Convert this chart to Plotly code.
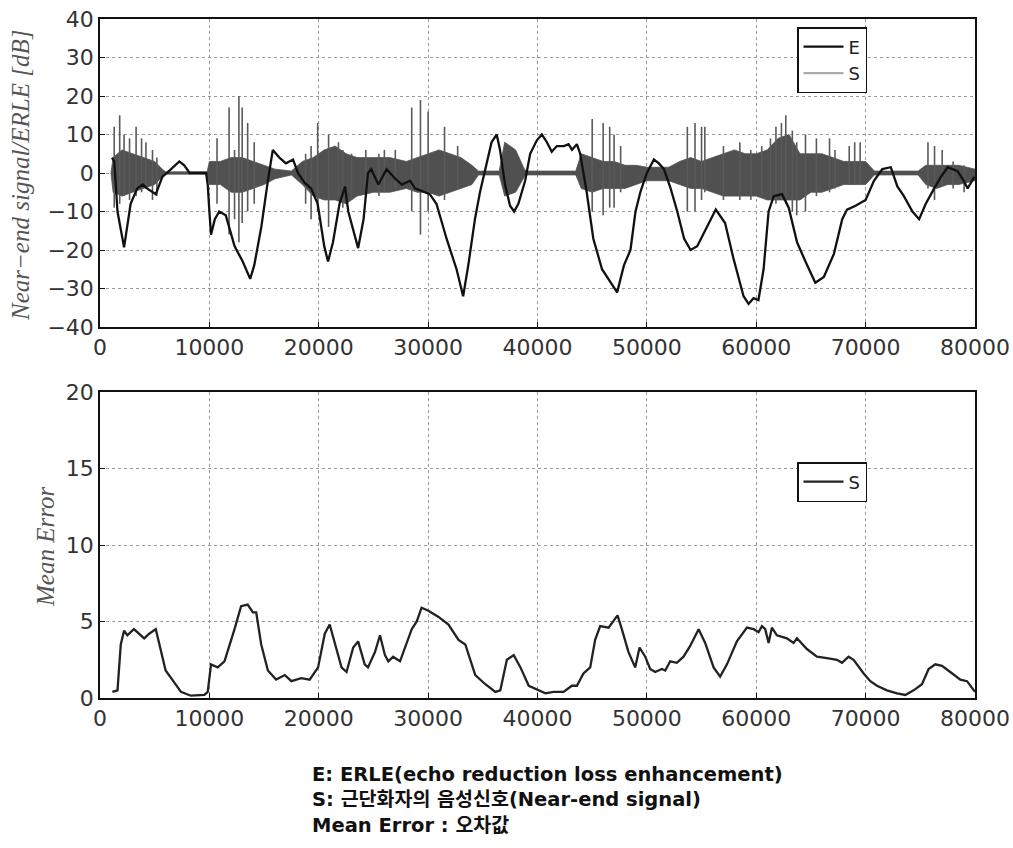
import plotly.graph_objects as go

# ---------------- data ----------------
# ERLE (E) curve, top panel
E_x = [1100, 1300, 1600, 2200, 2800, 3400, 3900, 4300, 5100, 5700, 6500, 7250, 7700, 8200, 9700,
       9850, 10000, 10150, 10500, 10900, 11500, 12300, 13050, 13730, 14100, 14750, 15350, 15800,
       16400, 17000, 17650, 18100, 18700, 19300, 19900, 20500, 20850, 21300, 21900, 22400, 22700,
       23600, 24100, 24500, 24800, 25450, 26200, 27000, 27600, 28350, 28800, 29700, 30150, 30760,
       31680, 32600, 33200, 33670, 34280, 34740, 35350, 35800, 36270, 36575, 37030, 37490, 37860,
       38250, 38870, 39330, 39940, 40400, 40860, 41300, 41770, 42400, 42840, 43150, 43600, 43900,
       44500, 45100, 45900, 46700, 47280, 47900, 48500, 48960, 49400, 50000, 50640, 51100, 51560,
       52170, 52780, 53400, 54000, 54600, 55500, 56300, 57150, 57900, 58840, 59300, 59750, 60200,
       60670, 61130, 61600, 62350, 62970, 63730, 64500, 65400, 66180, 67100, 67860, 68300, 69080,
       70000, 70760, 71530, 72300, 72900, 73500, 74280, 74890, 75500, 76270, 76880, 77500, 78400,
       78870, 79330, 79940]
E_y = [4, 3, -10, -19.3, -8, -4, -3, -4, -5.5, -1, 1, 3, 2, 0, 0,
       -3, -10, -16, -12, -10, -11, -19, -23, -27.5, -24, -14, -2, 6,
       4, 2.5, 3.5, 0, -2.5, -4, -8, -19, -23, -18, -8, -3.5, -10,
       -19.5, -12, 0, 1, -3, 1, -1.5, -3, -2, -4, -5, -5.5, -8,
       -17, -25, -32, -24, -12, -5, 3, 8, 10, 6, -3, -8.5, -10,
       -8, -2, 5, 8.5, 10, 8, 5.5, 7, 7, 7.5, 6, 7.5, 5,
       -5, -17, -25, -28.5, -31, -24, -20, -10, -5, 0, 3.5, 2.5, 1,
       -4, -10, -17, -20, -19, -14, -9.5, -13, -22, -32, -34, -32.5, -33,
       -25, -10, -6, -5.5, -9, -18, -23, -28.5, -27, -21, -12, -9.5, -8.5,
       -7, -2, 1, 1.5, -3.5, -6, -10, -12, -8, -4, -1, 1.5, 0.5,
       -1.5, -4, -1]

# Near-end signal (S): envelope of the dense part
S_x = [1000, 1200, 2000, 3000, 4000, 5000, 5700, 6000, 9800, 10000, 11000, 12000, 13000, 14000,
       15000, 16000, 17500, 18500, 19500, 20500, 21500, 22500, 23500, 25000, 26500, 28000, 29000,
       30000, 31000, 32000, 33000, 34000, 34600, 36500, 37000, 38000, 38800, 39000, 43500, 44000,
       45000, 46000, 47000, 48000, 49000, 50000, 52000, 53000, 54000, 55000, 56000, 57000, 58000,
       59000, 60000, 61000, 62000, 63000, 64000, 65000, 66000, 67000, 68000, 69000, 70000, 70800,
       74800, 75500, 76500, 77500, 78500, 80000]
S_hi = [0, 4, 6, 5, 4, 3, 1, 0.3, 0.3, 3, 3, 4, 4, 3,
        2, 1, 0.5, 3, 4, 6, 7, 5, 4, 4, 4, 3, 4,
        5, 6, 5, 4, 2, 0.5, 0.5, 8, 6, 1, 0.5, 0.5, 5,
        4, 3, 3, 2, 2, 1.5, 1.5, 3, 4, 3, 4, 5, 6,
        5, 5, 6, 9, 10, 5, 5, 5, 4, 3, 3, 3, 0.5,
        0.5, 2, 2, 2, 2, 1]
S_lo = [0, -5, -6, -5, -4, -3, -1, -0.3, -0.3, -3, -3, -5, -5, -4,
        -3, -1.5, -0.5, -3, -6, -7, -7, -8, -6, -5, -5, -4, -5,
        -5, -6, -5, -4, -3, -0.5, -0.5, -6, -5, -1, -0.5, -0.5, -4,
        -5, -4, -4, -4, -3, -2, -2, -3, -4, -4, -5, -6, -6,
        -6, -6, -7, -7, -7, -7, -5, -5, -4, -3, -3, -3, -0.5,
        -0.5, -3, -4, -3, -3, -2]

# Near-end signal (S): individual peaks
P_x = [1300, 1800, 2200, 2700, 3300, 3800, 4200, 4800, 5200,
       10700, 11800, 12300, 12700, 13000, 13500, 14100,
       18800, 19300, 19900, 20900, 21800, 22200, 23000, 24300, 25500, 26000,
       27000, 28500, 29300, 30000, 31500, 32700,
       45000, 46000, 46600, 47000, 47600, 53700, 54400, 55000, 55300,
       57000, 58500, 59500, 60500, 61300, 61800, 62300, 62700, 63300, 63700,
       64500, 65500, 66700, 67200, 68500, 69000, 69500, 75700, 76300, 77000, 78000, 79000]
P_hi = [12, 15, 10, 9, 12, 9, 8, 6, 4,
        9, 17, 6, 20, 17, 13, 8,
        5, 7, 13, 10, 8, 6, 5, 6, 5, 6,
        6, 17, 19, 16, 12, 7,
        14, 13, 12, 10, 7, 12, 13, 12, 12,
        7, 8, 6, 7, 9, 12, 13, 15, 11, 8,
        10, 9, 9, 6, 7, 8, 8, 8, 7, 6, 3, 2]
P_lo = [-9, -8, -6, -7, -6, -5, -4, -7, -6,
        -8, -16, -12, -18, -13, -10, -8,
        -8, -12, -10, -14, -6, -9, -7, -6, -6, -5,
        -4, -10, -16, -10, -7, -4,
        -10, -11, -9, -9, -5, -10, -10, -7, -5,
        -7, -7, -7, -6, -7, -8, -7, -8, -10, -11,
        -10, -6, -5, -4, -3, -3, -3, -4, -7, -3, -4, -5]

# Mean error, bottom panel
M_x = [1130, 1600, 1900, 2200, 2500, 3100, 4040, 4500, 5100, 5570, 6000, 6800, 7400, 8300, 9540,
       9850, 10150, 10760, 11380, 12300, 12900, 13500, 13980, 14280, 14740, 15350, 16100, 16900,
       17500, 18400, 19170, 19940, 20550, 21000, 21470, 22080, 22540, 23150, 23600, 24200, 24500,
       25140, 25600, 26050, 26360, 26800, 27430, 27900, 28500, 28960, 29400, 30030, 30950, 31860,
       32780, 33400, 34310, 35230, 36150, 36600, 37200, 37830, 38440, 39200, 40120, 40730, 41460,
       42380, 43140, 43600, 44200, 44820, 45270, 45730, 46500, 46950, 47320, 47710, 48320, 48930,
       49330, 49850, 50300, 50760, 51370, 51680, 52130, 52740, 53350, 53960, 54730, 55330, 56100,
       56700, 57320, 58230, 59150, 59760, 60210, 60520, 60820, 61130, 61430, 61890, 62800, 63410,
       63720, 64630, 65550, 66460, 67380, 67840, 68440, 68900, 69820, 70430, 71040, 71950, 72870,
       73630, 74390, 75150, 75760, 76370, 76980, 77740, 78660, 79270, 80000]
M_y = [0.4, 0.5, 3.5, 4.4, 4.1, 4.5, 3.9, 4.2, 4.5, 3.0, 1.8, 1.0, 0.4, 0.15, 0.2,
       0.4, 2.2, 2.0, 2.4, 4.5, 6.0, 6.1, 5.6, 5.6, 3.5, 1.8, 1.2, 1.5,
       1.1, 1.3, 1.2, 2.0, 4.2, 4.8, 3.5, 2.0, 1.7, 3.3, 3.7, 2.2, 2.0,
       3.0, 4.1, 2.8, 2.4, 2.7, 2.4, 3.3, 4.5, 5.0, 5.9, 5.7, 5.3, 4.8,
       3.8, 3.5, 1.5, 0.9, 0.4, 0.5, 2.5, 2.8, 2.0, 0.8, 0.5, 0.3, 0.4,
       0.4, 0.8, 0.8, 1.6, 2.0, 3.8, 4.7, 4.6, 5.0, 5.4, 4.5, 3.0, 2.0,
       3.3, 2.7, 1.9, 1.7, 1.9, 1.8, 2.4, 2.3, 2.7, 3.4, 4.5, 3.6, 2.0,
       1.4, 2.2, 3.7, 4.6, 4.5, 4.3, 4.7, 4.5, 3.6, 4.6, 4.1, 3.9, 3.6,
       3.9, 3.2, 2.7, 2.6, 2.5, 2.3, 2.7, 2.5, 1.6, 1.1, 0.8, 0.5, 0.3,
       0.2, 0.5, 0.9, 1.9, 2.2, 2.1, 1.7, 1.2, 1.1, 0.4]

x_ticks = [0, 10000, 20000, 30000, 40000, 50000, 60000, 70000, 80000]
top_y_ticks = [-40, -30, -20, -10, 0, 10, 20, 30, 40]
bot_y_ticks = [0, 5, 10, 15, 20]

caption_lines = ["E: ERLE(echo reduction loss enhancement)",
                 "S: 근단화자의 음성신호(Near-end signal)",
                 "Mean Error : 오차값"]

# ---------------- figure ----------------
W, H = 1013, 848
fig = go.Figure()

# S envelope band
band_x = S_x + S_x[::-1]
band_y = S_hi + S_lo[::-1]
fig.add_trace(go.Scatter(x=band_x, y=band_y, fill="toself", fillcolor="#505050",
                         line=dict(color="#505050", width=0.8), mode="lines",
                         showlegend=False, hoverinfo="skip", xaxis="x", yaxis="y"))
# S peaks
px, py = [], []
for x, hi, lo in zip(P_x, P_hi, P_lo):
    px += [x, x, None]
    py += [hi, lo, None]
fig.add_trace(go.Scatter(x=px, y=py, mode="lines", line=dict(color="#5a5a5a", width=1.6),
                         showlegend=False, hoverinfo="skip", xaxis="x", yaxis="y"))
# E
fig.add_trace(go.Scatter(x=E_x, y=E_y, mode="lines", name="E",
                         line=dict(color="#111111", width=2.3),
                         xaxis="x", yaxis="y", legend="legend"))
# legend entry for S (light gray)
fig.add_trace(go.Scatter(x=[None], y=[None], mode="lines", name="S",
                         line=dict(color="#aaaaaa", width=2.3),
                         xaxis="x", yaxis="y", legend="legend"))
# Mean error
fig.add_trace(go.Scatter(x=M_x, y=M_y, mode="lines", name="S",
                         line=dict(color="#222222", width=2.3),
                         xaxis="x2", yaxis="y2", legend="legend2"))

xd = [100 / W, 975 / W]
top_dom = [1 - 327 / H, 1 - 19 / H]
bot_dom = [1 - 698 / H, 1 - 392 / H]

tickfont = dict(family="DejaVu Sans", size=22, color="#333333")
common_axis = dict(showline=True, mirror=True, linecolor="#111111", linewidth=1.5,
                   ticks="inside", ticklen=5, tickcolor="#111111",
                   showgrid=True, gridcolor="#9a9a9a", griddash="dot", gridwidth=1,
                   zeroline=False, tickfont=tickfont, automargin=False)

legend_common = dict(xanchor="left", yanchor="top", bgcolor="white",
                     bordercolor="#111111", borderwidth=1.5,
                     font=dict(family="DejaVu Sans", size=18, color="#222222"),
                     itemwidth=40, entrywidth=52, tracegroupgap=0)

fig.update_layout(
    width=W, height=H,
    margin=dict(l=0, r=0, t=0, b=0, autoexpand=False),
    paper_bgcolor="white", plot_bgcolor="white",
    xaxis=dict(domain=xd, anchor="y", range=[0, 80000], tickvals=x_ticks,
               ticktext=[str(v) for v in x_ticks], **common_axis),
    yaxis=dict(domain=top_dom, anchor="x", range=[-40, 40], tickvals=top_y_ticks,
               ticktext=[("−" + str(-v)) if v < 0 else str(v) for v in top_y_ticks],
               **common_axis),
    xaxis2=dict(domain=xd, anchor="y2", range=[0, 80000], tickvals=x_ticks,
                ticktext=[str(v) for v in x_ticks], **common_axis),
    yaxis2=dict(domain=bot_dom, anchor="x2", range=[0, 20], tickvals=bot_y_ticks,
                **common_axis),
    legend=dict(x=797 / W, y=1 - 27 / H, **legend_common),
    legend2=dict(x=797 / W, y=1 - 462 / H, **legend_common),
    showlegend=True,
)

# y-axis titles (math italic style)
title_font = dict(family="Liberation Serif", size=25, color="#555555", style="italic")
fig.add_annotation(text="Near−end signal/ERLE [dB]", xref="paper", yref="paper",
                   x=21 / W, y=1 - 176 / H, textangle=-90, showarrow=False,
                   font=title_font, xanchor="center", yanchor="middle")
fig.add_annotation(text="Mean Error", xref="paper", yref="paper",
                   x=45 / W, y=1 - 547 / H, textangle=-90, showarrow=False,
                   font=title_font, xanchor="center", yanchor="middle")

# caption (one block, left aligned)
fig.add_annotation(text="<br>".join("<b>" + s + "</b>" for s in caption_lines),
                   xref="paper", yref="paper",
                   x=310 / W, y=1 - 800 / H, xanchor="left", yanchor="middle",
                   align="left", showarrow=False,
                   font=dict(family="DejaVu Sans, Noto Sans CJK KR", size=19.5, color="#111111"))

fig.write_html("out.html", config={"displayModeBar": False},
               post_script="document.body.style.margin='0';")
